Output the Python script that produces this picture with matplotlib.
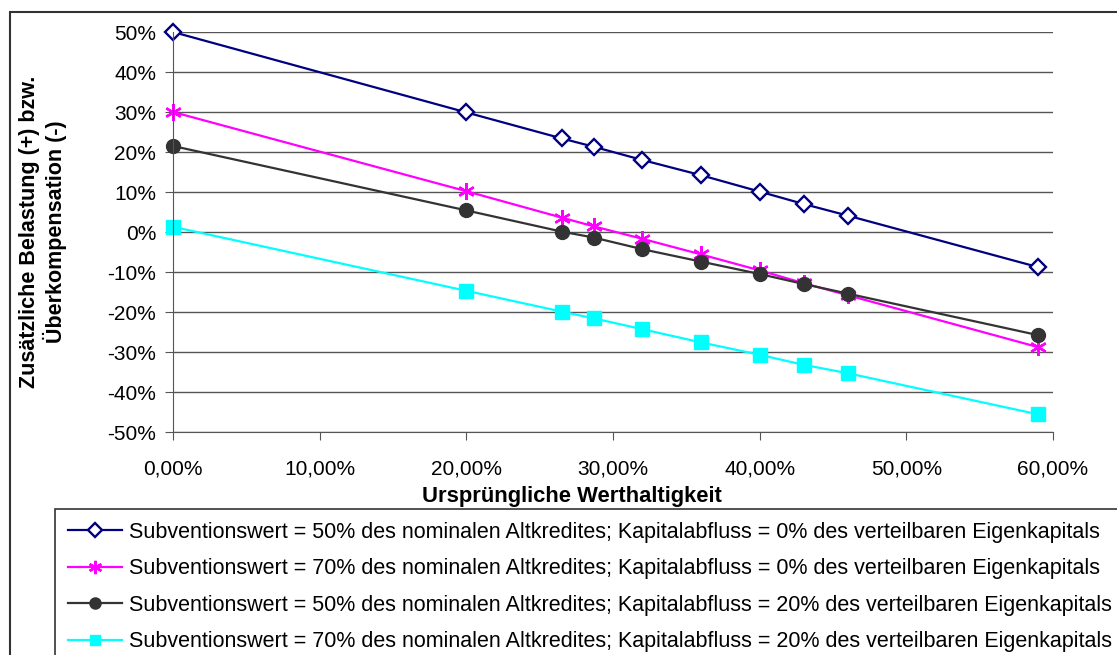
import matplotlib
matplotlib.use("Agg")
import matplotlib.pyplot as plt
from matplotlib.patches import Rectangle
from matplotlib.ticker import FuncFormatter

plt.rcParams['font.family'] = ['Liberation Sans', 'DejaVu Sans']

# Ursprüngliche Werthaltigkeit (in %)
werthaltigkeit = [0, 20, 26.5, 28.7, 32, 36, 40, 43, 46, 59]

# Zusätzliche Belastung (+) bzw. Überkompensation (-) in %
sub50_kap0 = [50, 29.9, 23.4, 21.3, 18, 14.2, 10.1, 7, 4.1, -8.8]
sub70_kap0 = [30, 10.2, 3.6, 1.4, -1.7, -5.6, -9.6, -12.8, -15.8, -28.8]
sub50_kap20 = [21.5, 5.4, 0.1, -1.4, -4.3, -7.4, -10.5, -13, -15.4, -25.8]
sub70_kap20 = [1.3, -14.7, -19.9, -21.6, -24.3, -27.6, -30.7, -33.2, -35.3, -45.6]

labels = [
    "Subventionswert = 50% des nominalen Altkredites; Kapitalabfluss = 0% des verteilbaren Eigenkapitals",
    "Subventionswert = 70% des nominalen Altkredites; Kapitalabfluss = 0% des verteilbaren Eigenkapitals",
    "Subventionswert = 50% des nominalen Altkredites; Kapitalabfluss = 20% des verteilbaren Eigenkapitals",
    "Subventionswert = 70% des nominalen Altkredites; Kapitalabfluss = 20% des verteilbaren Eigenkapitals",
]

W, H = 1117, 655
fig = plt.figure(figsize=(W / 100, H / 100), dpi=100)
ax = fig.add_axes([173 / W, 1 - 432 / H, 880 / W, 400 / H])

ax.plot(werthaltigkeit, sub50_kap0, color='#000080', lw=1.6, marker='D', ms=8.5,
        mfc='white', mec='#000080', mew=1.7, label=labels[0])
ax.plot(werthaltigkeit, sub70_kap0, color='#FF00FF', lw=1.6, marker=(6, 2, 0), ms=12,
        mec='#FF00FF', mew=1.7, label=labels[1])
ax.plot(werthaltigkeit, sub50_kap20, color='#333333', lw=1.6, marker='o', ms=10,
        mfc='#333333', mec='#333333', label=labels[2])
ax.plot(werthaltigkeit, sub70_kap20, color='#00FFFF', lw=1.6, marker='s', ms=9.5,
        mfc='#00FFFF', mec='#00FFFF', label=labels[3])

ax.set_xlim(0, 60)
ax.set_ylim(-50, 50)
ax.set_xticks(range(0, 61, 10))
ax.set_yticks(range(-50, 51, 10))
ax.xaxis.set_major_formatter(FuncFormatter(lambda v, p: f"{v:.2f}%".replace('.', ',')))
ax.yaxis.set_major_formatter(FuncFormatter(lambda v, p: f"{v:.0f}%"))
ax.tick_params(labelsize=15, length=6, color='#555555')
ax.tick_params(axis='y', pad=6)
ax.tick_params(axis='x', pad=14)
ax.grid(axis='y', color='#555555', lw=1)
ax.set_axisbelow(True)
for s in ['top', 'right']:
    ax.spines[s].set_visible(False)
for s in ['left', 'bottom']:
    ax.spines[s].set_color('#555555')
for line in ax.lines:
    line.set_clip_on(False)

fig.text(43 / W, 1 - 232 / H, "Zusätzliche Belastung (+) bzw.\nÜberkompensation (-)",
         fontsize=15.5, fontweight='bold', rotation=90, ha='center', va='center',
         multialignment='center', linespacing=1.1)

fig.text(572 / W, 1 - 502 / H, "Ursprüngliche Werthaltigkeit", fontsize=15.8,
         fontweight='bold', ha='center', va='baseline')

leg = ax.legend(loc='upper left', bbox_to_anchor=(55 / W, 1 - 509 / H),
                bbox_transform=fig.transFigure, fontsize=15.5, frameon=True,
                fancybox=False, edgecolor='black', borderaxespad=0,
                handlelength=2.5, handletextpad=0.35, labelspacing=0.72,
                borderpad=0.6, markerscale=0.8)
leg.get_frame().set_linewidth(1.2)

fig.patches.append(Rectangle((10 / W, -0.05), 1.2, 1 - 12 / H + 0.05,
                             transform=fig.transFigure, fill=False,
                             ec='#333333', lw=1.5))

fig.savefig("out.png", dpi=100)
